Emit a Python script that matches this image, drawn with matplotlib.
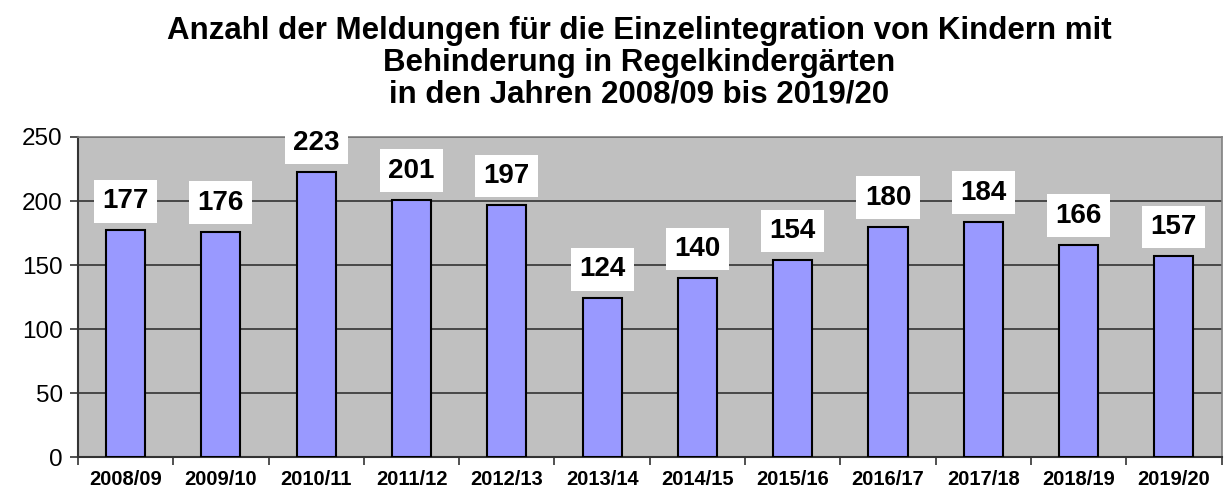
import matplotlib
matplotlib.use("Agg")
from matplotlib import pyplot as plt
import numpy as np

years = ["2008/09", "2009/10", "2010/11", "2011/12", "2012/13", "2013/14",
         "2014/15", "2015/16", "2016/17", "2017/18", "2018/19", "2019/20"]
counts = [177, 176, 223, 201, 197, 124, 140, 154, 180, 184, 166, 157]

plt.rcParams["font.family"] = ["Liberation Sans", "DejaVu Sans"]

fig = plt.figure(figsize=(12.24, 4.91), dpi=100)
ax = fig.add_axes([0.0637, 0.069, 0.9343, 0.652])
ax.set_facecolor("#C0C0C0")

x = np.arange(len(years))
ax.bar(x, counts, width=0.41, color="#9999FF", edgecolor="black", linewidth=1.5, zorder=3)

# value labels in white boxes above the bars
for xi, v in zip(x, counts):
    ax.annotate(str(v), (xi, v), xytext=(0, 29), textcoords="offset pixels",
                ha="center", va="center", fontsize=20, fontweight="bold", zorder=5,
                bbox=dict(boxstyle="square,pad=0.3", facecolor="white", edgecolor="none"))

ax.set_xlim(-0.5, len(years) - 0.5)
ax.set_ylim(0, 250)
ax.set_yticks([0, 50, 100, 150, 200, 250])
ax.yaxis.grid(True, color="#333333", linewidth=1.2, zorder=1)
ax.set_axisbelow(True)

ax.set_xticks(x)
ax.set_xticklabels(years, fontsize=14.5, fontweight="bold")
ax.set_xticks(np.arange(len(years) + 1) - 0.5, minor=True)
ax.tick_params(axis="x", which="major", length=0, pad=9)
ax.tick_params(axis="x", which="minor", length=6, width=1.2, color="#333333")
ax.tick_params(axis="y", labelsize=17.5, length=6, width=1.2, color="#333333", pad=5)

for side in ["left", "bottom"]:
    ax.spines[side].set_color("#333333")
    ax.spines[side].set_linewidth(1.5)
for side in ["top", "right"]:
    ax.spines[side].set_color("#808080")
    ax.spines[side].set_linewidth(1.2)

fig.text(0.522, 0.968, "Anzahl der Meldungen für die Einzelintegration von Kindern mit\n"
         "Behinderung in Regelkindergärten\nin den Jahren 2008/09 bis 2019/20",
         ha="center", va="top", fontsize=22.5, fontweight="bold", linespacing=1.08)

fig.savefig("out.png", dpi=100)
